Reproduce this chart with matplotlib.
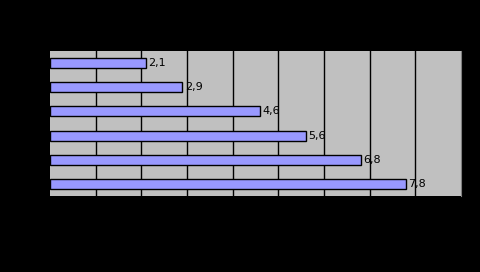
import matplotlib
matplotlib.use("Agg")
import matplotlib.pyplot as plt

# values top to bottom as shown
values = [2.1, 2.9, 4.6, 5.6, 6.8, 7.8]
labels = ["2,1", "2,9", "4,6", "5,6", "6,8", "7,8"]
grid_ticks = [1, 2, 3, 4, 5, 6, 7, 8]

fig = plt.figure(figsize=(4.8, 2.72), dpi=100, facecolor="black")
ax = fig.add_axes([50/480, 1 - 196/272, 411/480, 145/272])
ax.set_facecolor("#c0c0c0")

pos = list(range(len(values)))[::-1]
ax.barh(pos, values, height=0.42, color="#9999ff", edgecolor="black", linewidth=1, zorder=3)
for p, v, t in zip(pos, values, labels):
    ax.text(v + 0.05, p, t, va="center", ha="left", fontsize=8,
            family=["Liberation Sans Narrow", "DejaVu Sans"], color="black", zorder=4)

for g in grid_ticks:
    ax.axvline(g, color="black", linewidth=1, zorder=1)

ax.set_xlim(0, 9)
ax.set_ylim(-0.5, len(values) - 0.5)
ax.set_xticks([])
ax.set_yticks([])
for s in ax.spines.values():
    s.set_visible(False)
ax.spines["right"].set_visible(True)
ax.spines["right"].set_color("#808080")

fig.savefig("out.png", dpi=100, facecolor="black")
